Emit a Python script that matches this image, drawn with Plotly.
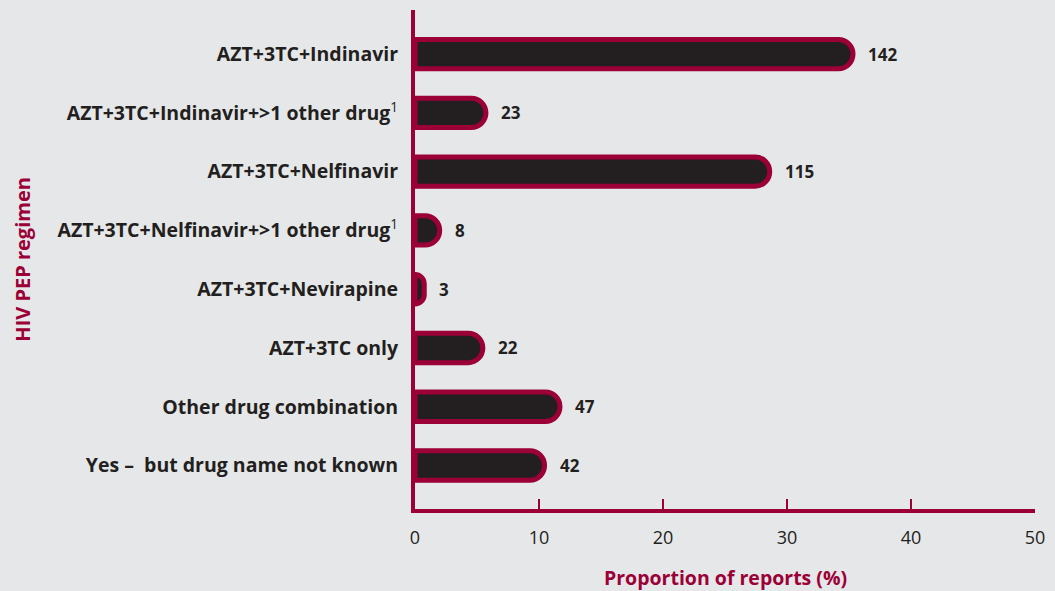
import plotly.graph_objects as go

# HIV PEP regimen reported, with report counts
SUP1 = "<sup><span style='font-weight:normal'>1</span></sup>"
regimens = [
    "AZT+3TC+Indinavir",
    "AZT+3TC+Indinavir+>1 other drug" + SUP1,
    "AZT+3TC+Nelfinavir",
    "AZT+3TC+Nelfinavir+>1 other drug" + SUP1,
    "AZT+3TC+Nevirapine",
    "AZT+3TC only",
    "Other drug combination",
    "Yes –  but drug name not known",
]
counts = [142, 23, 115, 8, 3, 22, 47, 42]
x_ticks = [0, 10, 20, 30, 40, 50]

total = sum(counts)
proportions = [c / total * 100 for c in counts]

CRIMSON = "#9b0036"
DARK = "#231f20"
BG = "#e6e7e8"
FONT = "Open Sans"
PLOT_W = 1055 - 415 - 15
PLOT_H = 591 - 10 - 82

fig = go.Figure(
    go.Bar(
        x=proportions,
        y=regimens,
        orientation="h",
        width=0.5,
        marker=dict(color=DARK, line=dict(color=CRIMSON, width=5), cornerradius="50%"),
        hoverinfo="skip",
    )
)

# count labels to the right of each bar
for reg, p, c in zip(regimens, proportions, counts):
    fig.add_annotation(
        x=p, y=reg, text=f"<b>{c}</b>", showarrow=False,
        xanchor="left", xshift=13,
        font=dict(family=FONT, size=17, color=DARK),
    )

fig.add_annotation(
    x=0.5, xref="paper", y=-68 / PLOT_H, yref="paper", yanchor="middle",
    text="<b>Proportion of reports (%)</b>", showarrow=False,
    font=dict(family=FONT, size=19.5, color=CRIMSON),
)
fig.add_annotation(
    x=-396 / PLOT_W, xref="paper", xanchor="center",
    y=0.5, yref="paper", yanchor="middle",
    text="<b>HIV PEP regimen</b>", showarrow=False, textangle=-90,
    font=dict(family=FONT, size=20, color=CRIMSON),
)

fig.update_layout(
    width=1055, height=591,
    margin=dict(l=415, r=15, t=10, b=82),
    paper_bgcolor=BG, plot_bgcolor=BG,
    showlegend=False,
    xaxis=dict(
        range=[0, 50], tickvals=x_ticks, showgrid=False, zeroline=False,
        showline=True, linecolor=CRIMSON, linewidth=4,
        ticks="inside", ticklen=10, tickwidth=2, tickcolor=CRIMSON,
        tickfont=dict(family=FONT, size=18, color=DARK),
        ticklabelstandoff=9,
    ),
    yaxis=dict(
        range=[7.74, -0.75], showgrid=False, zeroline=False,
        showline=True, linecolor=CRIMSON, linewidth=4,
        ticks="", tickfont=dict(family=FONT, size=19.5, color=DARK, weight="bold"),
        ticklabelstandoff=9, automargin=False,
    ),
)

fig.write_html("out.html")
